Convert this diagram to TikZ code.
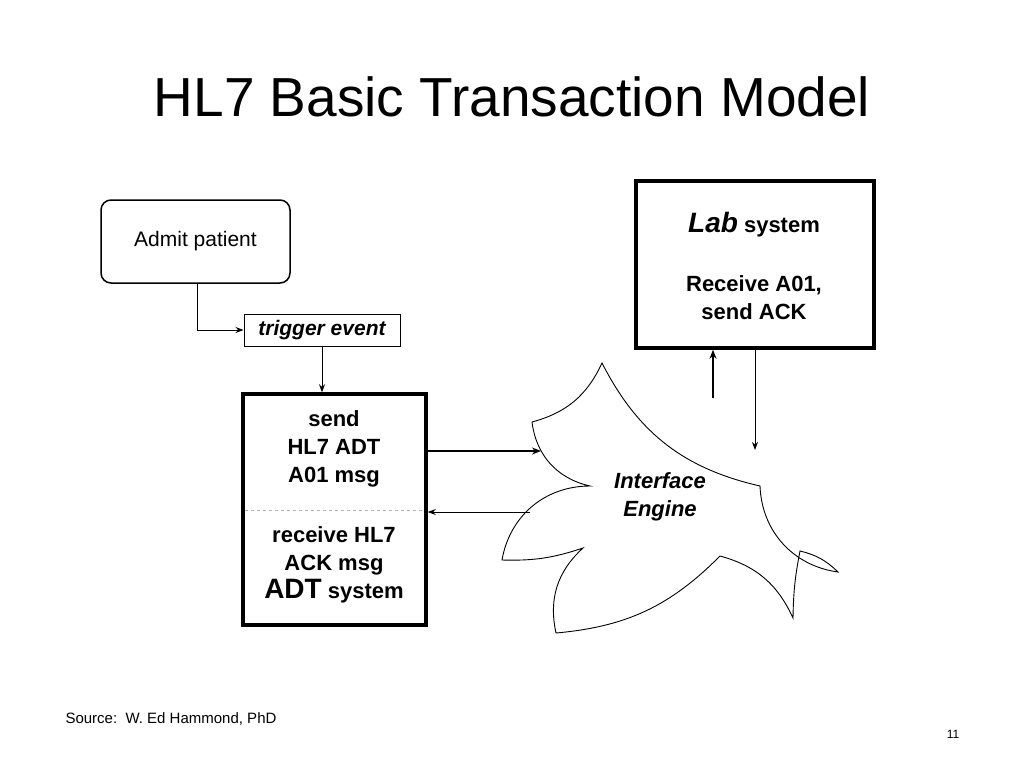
\documentclass[tikz,border=0pt]{standalone}
\usepackage{fontspec}
\setmainfont{Liberation Sans}
\usetikzlibrary{arrows.meta}
\tikzset{
  thinbox/.style={draw, line width=1pt, align=center},
  thickbox/.style={draw, line width=3.5pt},
  boldtext/.style={align=center, font=\fontsize{22}{28}\selectfont\bfseries},
  thinarrow/.style={-{Stealth[length=8pt,width=6pt]}, line width=0.9pt},
  thickarrow/.style={-{Stealth[length=9pt,width=7pt]}, line width=2.5pt}
}
\begin{document}
\begin{tikzpicture}[x=1pt, y=-1pt]
  \useasboundingbox (0,0) rectangle (1024,768);
  \node[anchor=base, font=\fontsize{55}{60}\selectfont] (title) at (512,116) {HL7 Basic Transaction Model};

  % boxes
  \draw[thinbox, rounded corners=10pt, line width=1.5pt] (101,200) rectangle (290,283);
  \node[font=\fontsize{21}{25}\selectfont] (admit) at (195.5,241.5) {Admit patient};
  \coordinate (admitb) at (197,283);
  \node[thinbox, minimum width=156pt, minimum height=32pt, inner sep=0pt,
    font=\fontsize{21}{24}\selectfont\bfseries\itshape] (trigger) at (322,330) {trigger event};
  \node[thickbox, minimum width=183pt, minimum height=231pt] (adt) at (334.5,509.5) {};
  \draw[dashed, gray!60] (245,510) -- (424,510);
  \node[boldtext] (send) at (334,449) {send\\HL7 ADT\\A01 msg};
  \node[boldtext] (recv) at (334,565) {receive HL7\\ACK msg\\{\fontsize{28}{30}\selectfont ADT} system};
  \node[thickbox, minimum width=238pt, minimum height=167pt] (lab) at (755,264.5) {};
  \node[boldtext] (labt) at (754,225) {{\fontsize{28}{30}\selectfont\itshape Lab} system};
  \node[boldtext] (labr) at (754,298) {Receive A01,\\send ACK};

  % interface engine cloud
  \draw[line width=0.9pt, fill=white]
    (602,363) to[bend left=25] (532,422)
    to[bend right=35] (590,486)
    to[bend right=40] (502,560)
    to[bend right=10] (583,548)
    to[bend right=30] (556,633)
    to[bend right=20] (720,556)
    to[bend left=25] (793,618)
    to[bend left=5] (800,551)
    to[bend left=15] (838,572)
    to[bend left=40] (760,486)
    to[bend left=25] (602,363) -- cycle;
  \node[boldtext, font=\fontsize{22}{28}\selectfont\bfseries\itshape] (engine) at (660,497) {Interface\\Engine};
  \coordinate (enginein) at (541,451);
  \coordinate (engineout) at (530,512);
  \coordinate (enginetop) at (713,398);
  \coordinate (enginert) at (755,450);

  % connectors
  \draw[thinarrow] (admitb) |- (trigger.west);
  \draw[thinarrow] (trigger.south) -- (trigger.south |- adt.north);
  \draw[thickarrow] (adt.east |- enginein) -- (enginein);
  \draw[thinarrow] (engineout) -- (adt.east |- engineout);
  \draw[thickarrow] (enginetop) -- (lab.south -| enginetop);
  \draw[thinarrow] (lab.south -| enginert) -- (enginert);

  \node[anchor=base west, font=\fontsize{15}{18}\selectfont] (source) at (62,723) {Source:\ \ W. Ed Hammond, PhD};
  \node[anchor=base, font=\fontsize{12}{14}\selectfont] (page) at (953,738) {11};
\end{tikzpicture}
\end{document}
